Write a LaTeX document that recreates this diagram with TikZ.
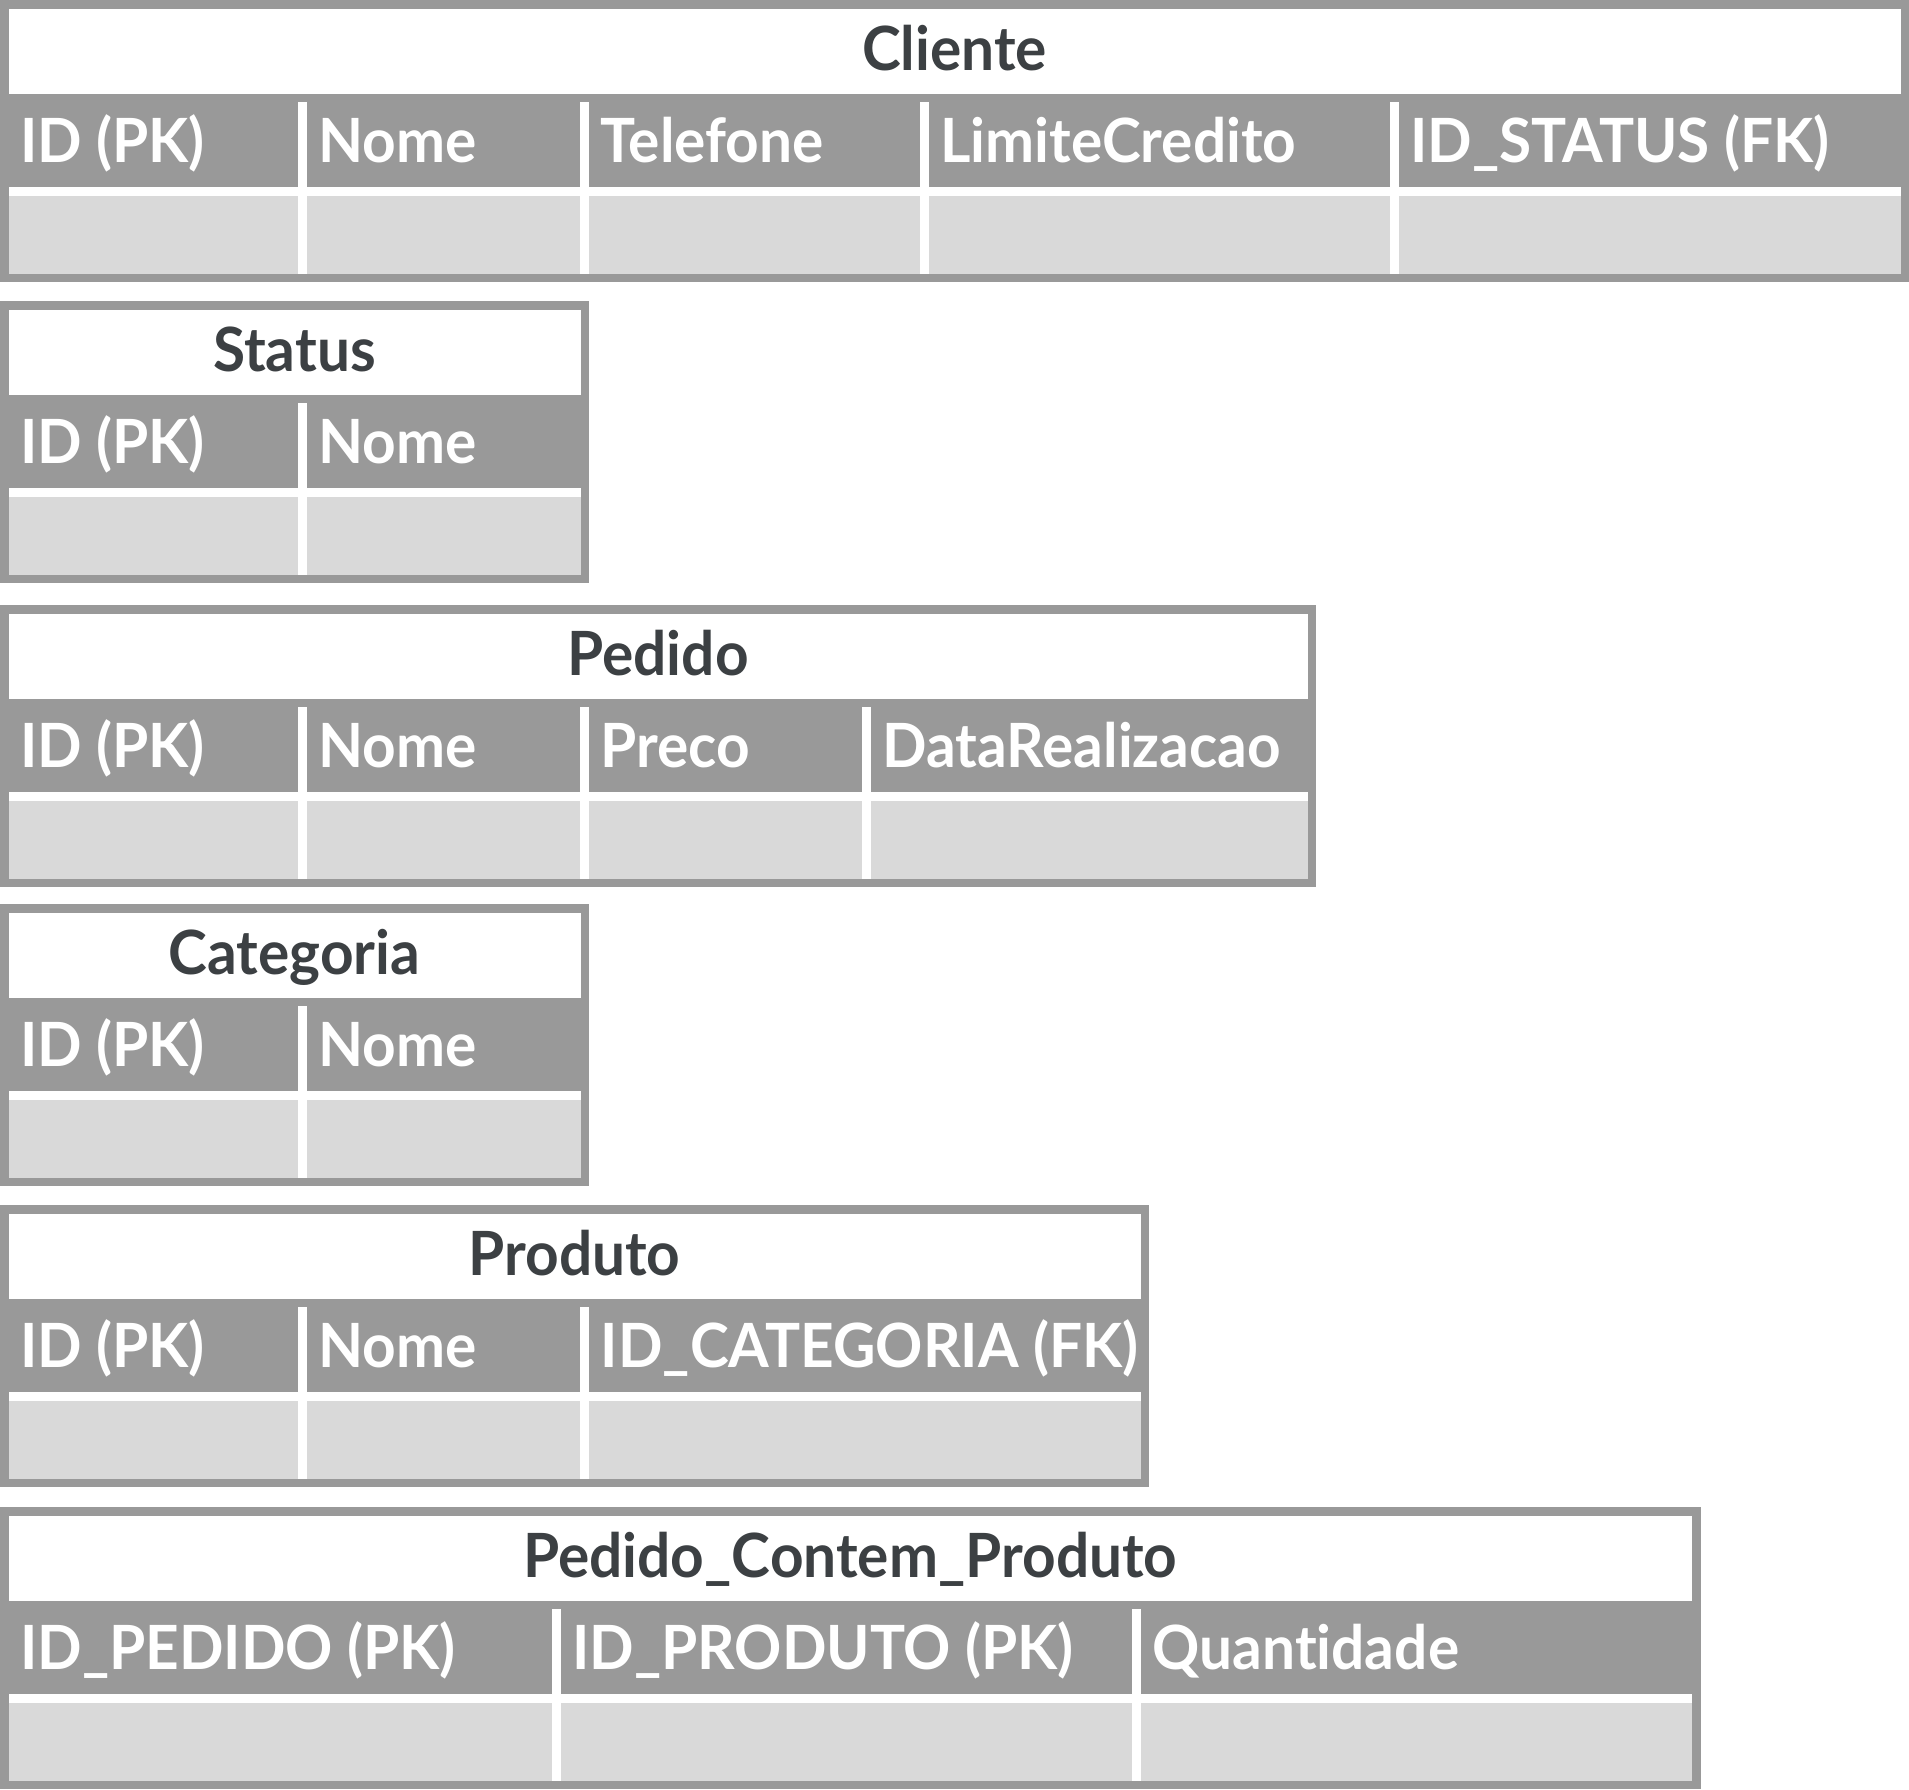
\documentclass[tikz,border=0pt]{standalone}
\usepackage{fontspec}
\setmainfont{Lato}[FakeStretch=0.96, Ligatures=NoCommon]
\usetikzlibrary{calc}

\definecolor{tabgray}{HTML}{999999}
\definecolor{tablight}{HTML}{D9D9D9}
\definecolor{titlegray}{HTML}{3C4043}

\tikzset{
    tabtitle/.style={anchor=base, inner sep=0pt, text=titlegray,
        font=\bfseries\fontsize{61}{70}\selectfont},
    tabfield/.style={anchor=base west, inner sep=0pt, text=white,
        font=\bfseries\fontsize{61}{70}\selectfont}
}

\begin{document}
\begin{tikzpicture}[x=1pt,y=-1pt]
            \useasboundingbox (0,0) rectangle (1909,1789);

            \foreach \n/\t/\w/\name/\cols in {
                cli/0/1909/Cliente/{4/ID (PK),302/Nome,584.5/Telefone,924/LimiteCredito,1394/ID\_STATUS (FK)},
                sta/301/589/Status/{4/ID (PK),302/Nome},
                ped/605/1316/Pedido/{4/ID (PK),302/Nome,584.5/Preco,866.5/DataRealizacao},
                cat/904/589/Categoria/{4/ID (PK),302/Nome},
                pro/1205/1149/Produto/{4/ID (PK),302/Nome,584.5/ID\_CATEGORIA (FK)},
                pcp/1507/1700.5/Pedido\_Contem\_Produto/{4/ID\_PEDIDO (PK),556/ID\_PRODUTO (PK),1136.5/Quantidade}}
                {
                    \fill [tabgray] (0,\t) rectangle (\w,\t+282);
                    \fill [white] (8.5,\t+8.5) rectangle (\w-8.5,\t+94);
                    \fill [white] (8.5,\t+187) rectangle (\w-8.5,\t+196);
                    \fill [tablight] (8.5,\t+196) rectangle (\w-8.5,\t+273.5);
                    \node [tabtitle] (\n-title) at (\w/2,\t+70) {\name};

                    \foreach \c/\lbl [count=\i] in \cols
                        {
                            \ifnum\i>1
                                \fill [white] (\c-4.5,\t+102) rectangle (\c+4.5,\t+273.5);
                            \fi
                            \node [tabfield] (\n-\i) at (\c+16,\t+162) {\lbl};
                        }
                }

        \end{tikzpicture}
\end{document}
